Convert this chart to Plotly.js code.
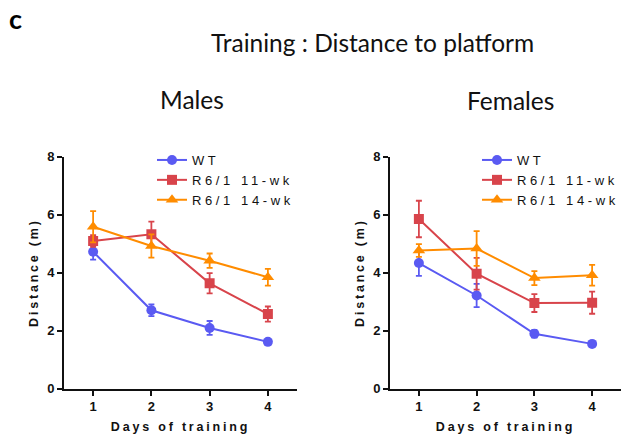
<!DOCTYPE html>
<html>
<head>
<meta charset="utf-8">
<script src="https://cdn.plot.ly/plotly-3.0.1.min.js"></script>
<style>
  html, body { margin: 0; padding: 0; background: #fff; }
  #chart { width: 623px; height: 442px; }
  .xtitle, .ytitle, .x2title, .y2title { letter-spacing: 2.8px; }
  .infolayer g[class*="legend"] text { letter-spacing: 3.6px !important; }
  .infolayer g[class*="legend"] g, .infolayer g[class*="legend"] { clip-path: none !important; }
</style>
</head>
<body>
<div id="chart"></div>
<script>
// ---- Data ----
const days = [1, 2, 3, 4];
const seriesNames = ["WT", "R6/1 11-wk", "R6/1 14-wk"];

// Males
const malesWT      = [4.72, 2.70, 2.09, 1.61];
const malesWTErr   = [0.27, 0.20, 0.24, 0.06];
const males11      = [5.09, 5.32, 3.63, 2.57];
const males11Err   = [0.20, 0.44, 0.35, 0.26];
const males14      = [5.58, 4.92, 4.41, 3.84];
const males14Err   = [0.54, 0.40, 0.25, 0.29];

// Females
const femalesWT    = [4.33, 3.21, 1.89, 1.54];
const femalesWTErr = [0.44, 0.40, 0.13, 0.05];
const females11    = [5.85, 3.96, 2.95, 2.96];
const females11Err = [0.63, 0.55, 0.31, 0.38];
const females14    = [4.76, 4.83, 3.81, 3.91];
const females14Err = [0.22, 0.60, 0.24, 0.36];

const colors = ["#5a5af2", "#d8444b", "#ff8c00"];
const symbols = ["circle", "square", "triangle-up"];
const sizes = [10, 10, 11];

function mk(i, y, err, xa, ya, legend) {
  return {
    x: days, y: y, name: seriesNames[i],
    type: "scatter", mode: "lines+markers",
    xaxis: xa, yaxis: ya, legend: legend,
    line: { color: colors[i], width: 2 },
    marker: { color: colors[i], symbol: symbols[i], size: sizes[i] },
    error_y: { type: "data", array: err, visible: true, color: colors[i], thickness: 1.8, width: 3 }
  };
}

const traces = [
  mk(0, malesWT, malesWTErr, "x", "y", "legend"),
  mk(1, males11, males11Err, "x", "y", "legend"),
  mk(2, males14, males14Err, "x", "y", "legend"),
  mk(0, femalesWT, femalesWTErr, "x2", "y2", "legend2"),
  mk(1, females11, females11Err, "x2", "y2", "legend2"),
  mk(2, females14, females14Err, "x2", "y2", "legend2")
];

const tickFont = { family: "Liberation Sans, Arial, sans-serif", size: 13, color: "#111", weight: "bold" };
const titleFont = { family: "Liberation Sans, Arial, sans-serif", size: 12.5, color: "#111", weight: "bold" };

function xAxis(domain, anchor) {
  return {
    domain: domain, anchor: anchor, range: [0.5, 4.5],
    tickmode: "array", tickvals: days, ticktext: days.map(String),
    ticks: "outside", ticklen: 5, tickwidth: 2, tickcolor: "#111",
    showline: true, linecolor: "#111", linewidth: 2,
    showgrid: false, zeroline: false, fixedrange: true,
    tickfont: tickFont,
    title: { text: "Days of training", font: titleFont, standoff: 9 }
  };
}
function yAxis(domain, anchor) {
  return {
    domain: domain, anchor: anchor, range: [0, 8],
    tickvals: [0, 2, 4, 6, 8],
    ticks: "outside", ticklen: 5, tickwidth: 2, tickcolor: "#111",
    showline: true, linecolor: "#111", linewidth: 2,
    showgrid: false, zeroline: false, fixedrange: true,
    tickfont: tickFont,
    title: { text: "Distance (m)", font: titleFont, standoff: 6 }
  };
}

const W = 623, H = 442;
const yDom = [1 - 388.5 / H, 1 - 156.7 / H];

const legendFont = { family: "Liberation Sans, Arial, sans-serif", size: 13, color: "#111" };

const layout = {
  width: W, height: H,
  margin: { l: 0, r: 0, t: 0, b: 0 },
  paper_bgcolor: "#fff", plot_bgcolor: "#fff",
  xaxis: xAxis([64 / W, 297 / W], "y"),
  yaxis: yAxis(yDom, "x"),
  xaxis2: xAxis([390 / W, 621 / W], "y2"),
  yaxis2: yAxis(yDom, "x2"),
  legend: {
    x: 152 / W, y: 1 - 145 / H, xanchor: "left", yanchor: "top",
    font: legendFont, bgcolor: "rgba(0,0,0,0)", tracegroupgap: 0,
    itemwidth: 30
  },
  legend2: {
    x: 477 / W, y: 1 - 145 / H, xanchor: "left", yanchor: "top",
    font: legendFont, bgcolor: "rgba(0,0,0,0)", tracegroupgap: 0,
    itemwidth: 30
  },
  annotations: [
    { text: "<b>c</b>", x: 15 / W, y: 1 - 19 / H, xref: "paper", yref: "paper",
      xanchor: "center", yanchor: "middle", showarrow: false,
      font: { family: "Lato, sans-serif", size: 27, color: "#000" } },
    { text: "Training : Distance to platform", x: 372 / W, y: 1 - 42 / H, xref: "paper", yref: "paper",
      xanchor: "center", yanchor: "middle", showarrow: false,
      font: { family: "Lato, sans-serif", size: 24.5, color: "#111" } },
    { text: "Males", x: 192 / W, y: 1 - 100 / H, xref: "paper", yref: "paper",
      xanchor: "center", yanchor: "middle", showarrow: false,
      font: { family: "Lato, sans-serif", size: 24.5, color: "#111" } },
    { text: "Females", x: 510 / W, y: 1 - 101 / H, xref: "paper", yref: "paper",
      xanchor: "center", yanchor: "middle", showarrow: false,
      font: { family: "Lato, sans-serif", size: 24.5, color: "#111" } }
  ]
};

Plotly.newPlot("chart", traces, layout, { displayModeBar: false, staticPlot: true });
</script>
</body>
</html>
